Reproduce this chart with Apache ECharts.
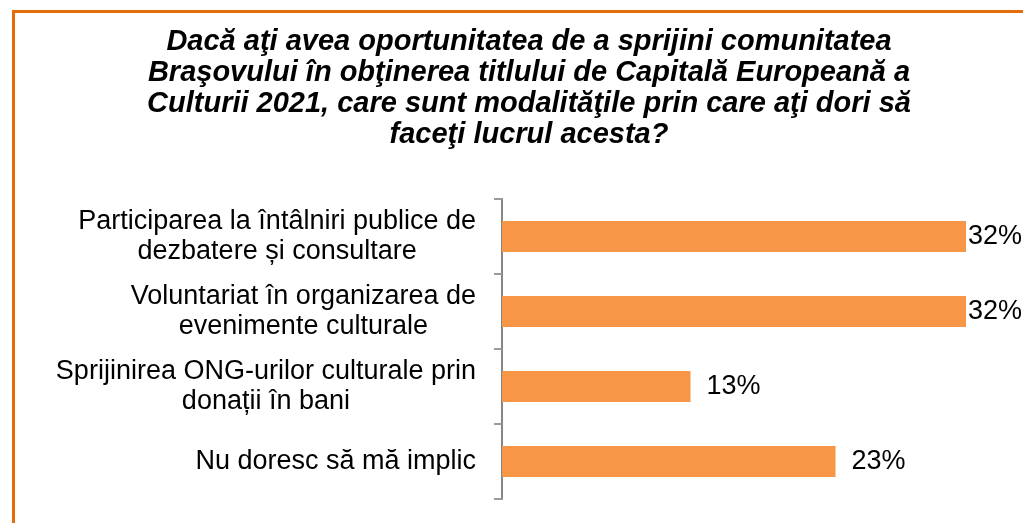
<!DOCTYPE html>
<html>
<head>
<meta charset="utf-8">
<script src="https://cdn.jsdelivr.net/npm/echarts@6/dist/echarts.min.js"></script>
<style>
  html, body { margin: 0; padding: 0; background: #ffffff; }
  #chart { width: 1023px; height: 523px; }
</style>
</head>
<body>
<div id="chart"></div>
<script>
// Survey question and answer options
const titleLines = [
  'Dacă aţi avea oportunitatea de a sprijini comunitatea',
  'Braşovului în obţinerea titlului de Capitală Europeană a',
  'Culturii 2021, care sunt modalităţile prin care aţi dori să',
  'faceţi lucrul acesta?'
];
const categories = [
  'Participarea la întâlniri publice de\ndezbatere și consultare',
  'Voluntariat în organizarea de\nevenimente culturale',
  'Sprijinirea ONG-urilor culturale prin\ndonații în bani',
  'Nu doresc să mă implic'
];
// Share of respondents (%)
const values = [32, 32, 13, 23];

const FONT = '"Liberation Sans", Arial, sans-serif';
const chart = echarts.init(document.getElementById('chart'), null, { renderer: 'canvas' });

chart.setOption({
  backgroundColor: '#ffffff',
  animation: false,
  title: {
    text: titleLines.join('\n'),
    left: 524,
    top: 21,
    textAlign: 'center',
    textStyle: {
      fontFamily: FONT,
      fontSize: 29,
      fontWeight: 'bold',
      fontStyle: 'italic',
      lineHeight: 31,
      color: '#000000'
    }
  },
  graphic: [{
    type: 'rect',
    silent: true,
    shape: { x: 13.5, y: 11.5, width: 1200, height: 700 },
    style: { fill: 'none', stroke: '#E46C0A', lineWidth: 3 }
  }],
  grid: { left: 502, top: 199, height: 300, width: 507.5 },
  xAxis: {
    type: 'value',
    min: 0,
    max: 35,
    show: false
  },
  yAxis: {
    type: 'category',
    inverse: true,
    data: categories,
    axisLine: { show: true, lineStyle: { color: '#868686', width: 2 } },
    axisTick: { show: true, length: 8, lineStyle: { color: '#9a9a9a', width: 2 } },
    axisLabel: {
      margin: 26,
      align: 'right',
      formatter: v => v.split('\n').map(l => '{c|' + l + '}').join('\n'),
      rich: {
        c: {
          align: 'center',
          fontFamily: FONT,
          fontSize: 27,
          lineHeight: 30,
          color: '#000000'
        }
      }
    }
  },
  series: [{
    type: 'bar',
    barWidth: 31,
    itemStyle: { color: '#F79646' },
    data: values.map(v => ({
      value: v,
      // long bars sit near the plot edge, so their labels hug the bar end
      label: { distance: v >= 30 ? 2 : 16 }
    })),
    label: {
      show: true,
      position: 'right',
      formatter: p => p.value + '%',
      fontFamily: FONT,
      fontSize: 27,
      color: '#000000'
    }
  }]
});
</script>
</body>
</html>
